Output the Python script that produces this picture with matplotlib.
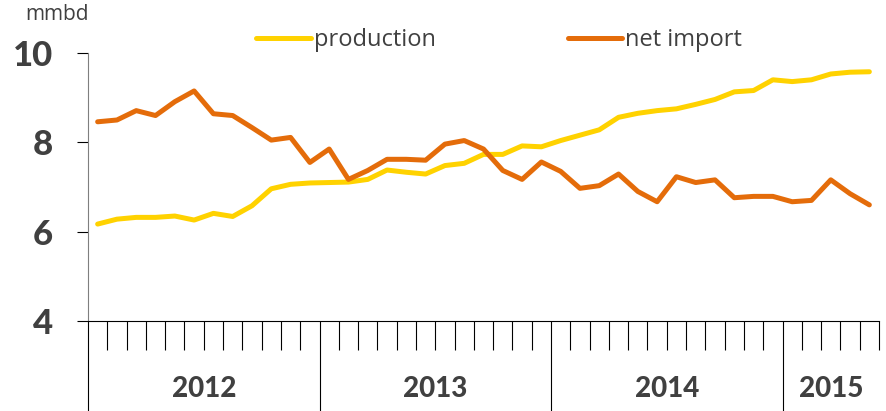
import matplotlib
matplotlib.use("Agg")
import matplotlib.pyplot as plt
import matplotlib.transforms as mtransforms
import numpy as np

production = [6.17, 6.28, 6.32, 6.32, 6.35, 6.26, 6.41, 6.34, 6.58, 6.96, 7.06, 7.09,
              7.10, 7.11, 7.17, 7.38, 7.33, 7.29, 7.48, 7.53, 7.73, 7.73, 7.92, 7.90,
              8.04, 8.16, 8.28, 8.56, 8.65, 8.71, 8.75, 8.85, 8.96, 9.13, 9.16, 9.40,
              9.36, 9.40, 9.53, 9.57, 9.58]
net_import = [8.46, 8.50, 8.71, 8.60, 8.91, 9.15, 8.64, 8.60, 8.33, 8.05, 8.11, 7.55,
              7.85, 7.17, 7.37, 7.62, 7.62, 7.60, 7.96, 8.04, 7.85, 7.37, 7.17, 7.56,
              7.35, 6.97, 7.03, 7.29, 6.90, 6.67, 7.23, 7.10, 7.16, 6.76, 6.79, 6.79,
              6.67, 6.70, 7.16, 6.85, 6.60]
years = ["2012", "2013", "2014", "2015"]
months_per_year = [12, 12, 12, 5]
yticks = [4, 6, 8, 10]

W, H = 886, 411
fig = plt.figure(figsize=(W/100, H/100), dpi=100)
ax = fig.add_axes([88/W, 1-321/H, (879-88)/W, (321-53)/H])

n = len(production)
x = np.arange(n) + 0.5
c_prod = "#FFD200"
c_imp = "#E46C0A"
ax.plot(x, production, color=c_prod, lw=3.6, solid_capstyle="round", label="production", zorder=3)
ax.plot(x, net_import, color=c_imp, lw=3.6, solid_capstyle="round", label="net import", zorder=3)

ax.set_xlim(0, n)
ax.set_ylim(4, 10)
for s in ["top", "right"]:
    ax.spines[s].set_visible(False)
ax.spines["left"].set_color("#7f7f7f")
ax.spines["bottom"].set_color("black")

txt = "#404040"
ax.set_yticks(yticks)
ax.set_yticklabels([str(v) for v in yticks], fontsize=25, fontweight="black", color=txt, family="Lato")
ax.tick_params(axis="y", length=8, direction="out", color="black", pad=17)

bounds = np.cumsum([0] + months_per_year)
year_b = list(bounds[:-1])
month_b = [k for k in range(n + 1) if k not in year_b]
ax.set_xticks(year_b)
ax.set_xticks(month_b, minor=True)
ax.set_xticklabels([])
ax.tick_params(axis="x", which="major", length=65, direction="out", color="black", width=0.8)
ax.tick_params(axis="x", which="minor", length=21, direction="out", color="black", width=0.8)

trans = mtransforms.blended_transform_factory(ax.transData, fig.transFigure)
for i, yr in enumerate(years):
    cx = (bounds[i] + bounds[i + 1]) / 2
    ax.text(cx, 1 - 389/H, yr, transform=trans, ha="center", va="center",
            fontsize=20, fontweight="black", color=txt, family="Lato")

fig.text(57/W, 1 - 15/H, "mmbd", ha="center", va="center", fontsize=15, color=txt, family="Open Sans")

leg = fig.legend(loc="center", bbox_to_anchor=(499/W, 1 - 40/H), ncol=2, frameon=False,
                 handlelength=2.3, handletextpad=0.12, columnspacing=5.6,
                 prop={"family": "Open Sans", "size": 17})
for t in leg.get_texts():
    t.set_color(txt)

fig.savefig("out.png", dpi=100)
